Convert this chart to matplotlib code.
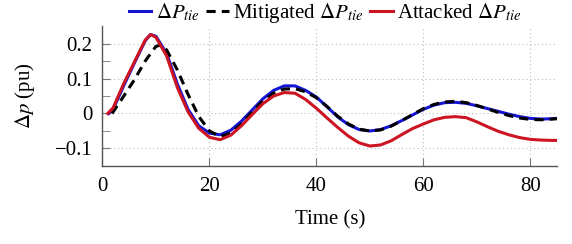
import matplotlib.pyplot as plt

plt.rcParams['font.family'] = ['Liberation Serif', 'DejaVu Serif']
plt.rcParams['mathtext.fontset'] = 'stix'

# values
t_tie = [1.2, 2, 4, 6, 8, 9, 10, 12, 14, 16, 18, 20, 22, 24, 26, 28, 30, 32, 34, 36,
         38, 40, 42, 44, 46, 48, 50, 52, 54, 56, 58, 60, 62, 64, 66, 68, 70, 72, 74,
         76, 78, 80, 82, 84, 85]
p_tie = [0.0, 0.012, 0.08, 0.145, 0.208, 0.226, 0.221, 0.172, 0.085, 0.012, -0.035,
         -0.056, -0.061, -0.048, -0.022, 0.01, 0.042, 0.066, 0.079, 0.079, 0.066,
         0.047, 0.019, -0.01, -0.032, -0.046, -0.05, -0.046, -0.035, -0.02, -0.004,
         0.012, 0.024, 0.031, 0.032, 0.029, 0.022, 0.014, 0.006, -0.002, -0.009,
         -0.014, -0.016, -0.015, -0.014]

t_mit = [1.8, 4, 6, 8, 10, 11, 12, 14, 16, 18, 20, 22, 24, 26, 28, 30, 32, 34, 36,
         38, 40, 42, 44, 46, 48, 50, 52, 54, 56, 58, 60, 62, 64, 66, 68, 70, 72, 74,
         76, 78, 80, 82, 84, 85]
p_mit = [0.0, 0.05, 0.097, 0.15, 0.192, 0.196, 0.182, 0.125, 0.055, -0.008, -0.05,
         -0.066, -0.056, -0.03, 0.004, 0.036, 0.058, 0.07, 0.071, 0.062, 0.045,
         0.02, -0.008, -0.03, -0.045, -0.05, -0.047, -0.036, -0.02, -0.003, 0.014,
         0.026, 0.033, 0.035, 0.031, 0.023, 0.013, 0.003, -0.006, -0.013, -0.017,
         -0.018, -0.016, -0.015]

t_att = [1.0, 2, 4, 6, 8, 9, 10, 12, 14, 16, 18, 20, 22, 24, 26, 28, 30, 32, 34, 36,
         38, 40, 42, 44, 46, 48, 50, 52, 54, 56, 58, 60, 62, 64, 66, 68, 70, 72, 74,
         76, 78, 80, 82, 84, 85]
p_att = [0.0, 0.016, 0.086, 0.148, 0.21, 0.226, 0.218, 0.165, 0.075, 0.005, -0.042,
         -0.068, -0.075, -0.062, -0.035, -0.003, 0.028, 0.05, 0.06, 0.058, 0.04,
         0.015, -0.013, -0.04, -0.065, -0.084, -0.093, -0.09, -0.078, -0.06, -0.043,
         -0.03, -0.018, -0.011, -0.009, -0.012, -0.024, -0.038, -0.051, -0.061,
         -0.069, -0.074, -0.076, -0.077, -0.077]

fig = plt.figure(figsize=(5.72, 2.44), dpi=100)
ax = fig.add_axes([0.179, 0.32, 0.795, 0.573])

ax.plot(t_tie, p_tie, color='#1414d2', lw=2.2, label=r'$\Delta P_{tie}$')
ax.plot(t_mit, p_mit, color='black', lw=2.2, dashes=(3, 2),
        label=r'Mitigated $\Delta P_{tie}$')
ax.plot(t_att, p_att, color='#cc1422', lw=2.2, label=r'Attacked $\Delta P_{tie}$')

ax.set_xlim(0, 85)
ax.set_ylim(-0.15, 0.25)
ax.set_xticks([0, 20, 40, 60, 80])
ax.set_yticks([-0.1, 0, 0.1, 0.2])
ax.set_yticklabels(['\u22120.1', '0', '0.1', '0.2'])
ax.set_yticks([-0.15, -0.05, 0.05, 0.15], minor=True)
ax.grid(True, which='major', color='#bbbbbb', linestyle=(0, (1, 2.5)), lw=0.8)

for s in ['top', 'right']:
    ax.spines[s].set_visible(False)
for s in ['left', 'bottom']:
    ax.spines[s].set_color('#555555')
    ax.spines[s].set_linewidth(1.0)

ax.tick_params(which='both', direction='in', color='#777777', labelsize=15, length=6)
ax.tick_params(axis='x', pad=8)
ax.tick_params(axis='y', pad=7)

ax.set_xlabel('Time (s)', fontsize=15, labelpad=10)
ax.set_ylabel(r'$\Delta p$ (pu)', fontsize=15, labelpad=13)

fig.legend(loc='center', bbox_to_anchor=(0.568, 0.945), ncol=3, frameon=False,
           fontsize=15, handlelength=1.1, handletextpad=0.2, columnspacing=0.3,
           borderaxespad=0, borderpad=0)

fig.savefig('out.png', dpi=100)
